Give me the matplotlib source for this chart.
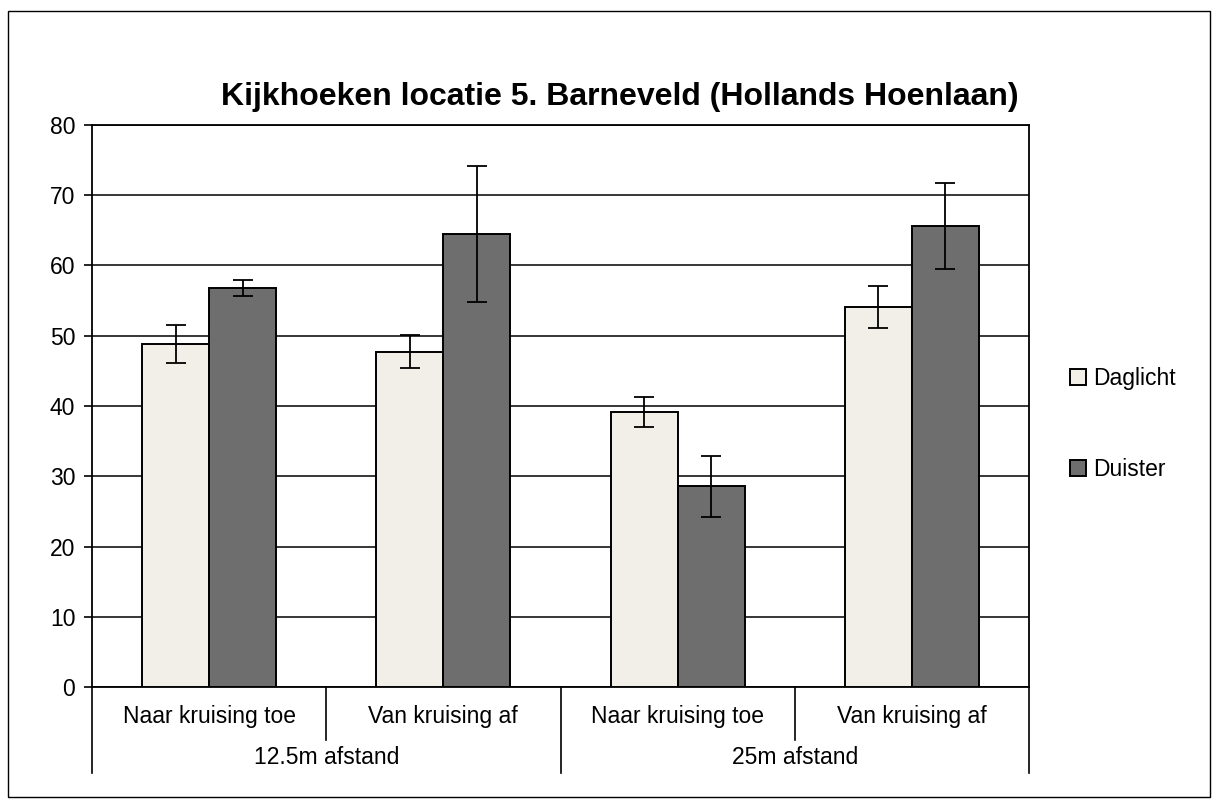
import matplotlib
matplotlib.use("Agg")
import matplotlib.pyplot as plt
from matplotlib.lines import Line2D
from matplotlib.patches import Rectangle
import numpy as np

plt.rcParams['font.family'] = ['Liberation Sans', 'DejaVu Sans']

title = "Kijkhoeken locatie 5. Barneveld (Hollands Hoenlaan)"
sub_categories = ["Naar kruising toe", "Van kruising af", "Naar kruising toe", "Van kruising af"]
groups = ["12.5m afstand", "25m afstand"]
series_names = ["Daglicht", "Duister"]
daglicht = [48.8, 47.7, 39.1, 54.1]
daglicht_err = [2.7, 2.35, 2.15, 3.05]
duister = [56.8, 64.5, 28.6, 65.6]
duister_err = [1.15, 9.7, 4.35, 6.15]
yticks = [0, 10, 20, 30, 40, 50, 60, 70, 80]

W, H = 1219, 805
fig = plt.figure(figsize=(W / 100, H / 100), dpi=100)

# outer chart border
fig.patches.append(Rectangle((8 / W, 1 - 797 / H), (1210 - 8) / W, (797 - 11) / H,
                             transform=fig.transFigure, fill=False, edgecolor='black',
                             linewidth=1.0, zorder=0))

ax_l, ax_r, ax_t, ax_b = 92, 1029, 125, 687
ax = fig.add_axes([ax_l / W, 1 - ax_b / H, (ax_r - ax_l) / W, (ax_b - ax_t) / H])
ax_h = ax_b - ax_t

x = np.arange(len(sub_categories))
bw = 0.286
ax.bar(x - bw / 2, daglicht, bw, color='#F2EFE9', edgecolor='black', linewidth=1.4,
       yerr=daglicht_err, capsize=7, error_kw=dict(elinewidth=1.3, capthick=1.3, ecolor='black'),
       zorder=3, label=series_names[0])
ax.bar(x + bw / 2, duister, bw, color='#6E6E6E', edgecolor='black', linewidth=1.4,
       yerr=duister_err, capsize=7, error_kw=dict(elinewidth=1.3, capthick=1.3, ecolor='black'),
       zorder=3, label=series_names[1])

ax.set_xlim(-0.5, len(sub_categories) - 0.5)
ax.set_ylim(0, 80)
ax.set_yticks(yticks)
ax.set_yticklabels([str(v) for v in yticks], fontsize=16.5)
ax.tick_params(axis='y', length=6, width=1.2, pad=6, direction='out')
ax.yaxis.grid(True, color='black', linewidth=1.1, zorder=0)
ax.set_axisbelow(True)
ax.set_xticks([])
for s in ax.spines.values():
    s.set_linewidth(1.3)
    s.set_color('black')

# multi-level category axis
tr = ax.get_xaxis_transform()
lvl1 = -(740 - ax_b) / ax_h
lvl2 = -(773 - ax_b) / ax_h
for b in np.arange(-0.5, len(sub_categories), 1.0):
    is_group = abs((b + 0.5) % 2) < 1e-9
    ax.add_line(Line2D([b, b], [0, lvl2 if is_group else lvl1], transform=tr,
                       color='black', linewidth=1.2, clip_on=False))
for i, lab in enumerate(sub_categories):
    ax.text(i, -(716 - ax_b) / ax_h, lab, transform=tr, ha='center', va='center', fontsize=16.5)
for g, lab in enumerate(groups):
    ax.text(2 * g + 0.5, -(757 - ax_b) / ax_h, lab, transform=tr, ha='center', va='center', fontsize=16.5)

fig.text(620 / W, 1 - 97 / H, title, ha='center', va='center', fontsize=23, fontweight='bold')

# legend
leg = fig.legend(handles=[Rectangle((0, 0), 1, 1, facecolor='#F2EFE9', edgecolor='black', linewidth=1.4),
                          Rectangle((0, 0), 1, 1, facecolor='#6E6E6E', edgecolor='black', linewidth=1.4)],
                 labels=series_names, loc='center left', bbox_to_anchor=(1070 / W, 1 - 424 / H),
                 frameon=False, fontsize=16.5, handlelength=0.7, handleheight=0.7,
                 handletextpad=0.3, labelspacing=3.0, borderaxespad=0, borderpad=0)

fig.savefig("out.png", dpi=100)
